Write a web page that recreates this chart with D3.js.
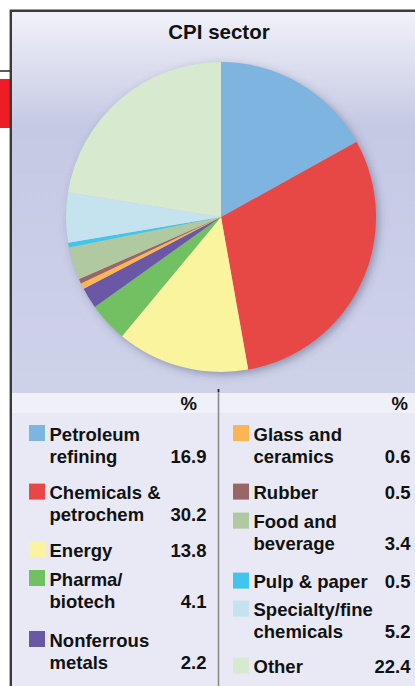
<!DOCTYPE html>
<html><head><meta charset="utf-8">
<script src="https://cdn.jsdelivr.net/npm/d3@7"></script>
<style>
html,body{margin:0;padding:0;background:#fff;overflow:hidden}
svg{display:block}
text{font-family:"Liberation Sans",Arial,Helvetica,sans-serif;font-weight:bold;fill:#111}
</style></head>
<body>
<script>
// ---- data ----
const title = "CPI sector";
const categories = ["Petroleum refining","Chemicals & petrochem","Energy","Pharma/biotech","Nonferrous metals","Glass and ceramics","Rubber","Food and beverage","Pulp & paper","Specialty/fine chemicals","Other"];
const legendLines = [["Petroleum","refining"],["Chemicals &","petrochem"],["Energy"],["Pharma/","biotech"],["Nonferrous","metals"],["Glass and","ceramics"],["Rubber"],["Food and","beverage"],["Pulp & paper"],["Specialty/fine","chemicals"],["Other"]];
const values = [16.9,30.2,13.8,4.1,2.2,0.6,0.5,3.4,0.5,5.2,22.4];
const colors = ["#7db4e0","#e74845","#fbf49e","#71c163","#6a58a6","#fdb455","#996565","#b0c9a0","#3fc5ee","#c4e3ee","#d7eacf"];
const valueHeader = "%";

// ---- layout ----
const W = 415, H = 686;
const svg = d3.select("body").append("svg").attr("width", W).attr("height", H);
const defs = svg.append("defs");

const bg = defs.append("linearGradient").attr("id","bg").attr("x1",0).attr("y1",0).attr("x2",0).attr("y2",1);
bg.append("stop").attr("offset","0%").attr("stop-color","#f1f2f9");
bg.append("stop").attr("offset","30%").attr("stop-color","#c6c9e4");
bg.append("stop").attr("offset","100%").attr("stop-color","#ced2e9");

const sh = defs.append("filter").attr("id","shadow").attr("x","-20%").attr("y","-20%").attr("width","140%").attr("height","140%");
sh.append("feDropShadow").attr("dx",3).attr("dy",3).attr("stdDeviation",5).attr("flood-color","#3a3f66").attr("flood-opacity",0.5);

// left decorations
svg.append("rect").attr("x",0).attr("y",79).attr("width",10).attr("height",49).attr("fill","#ee1c25");
svg.append("line").attr("x1",0).attr("x2",10).attr("y1",71).attr("y2",71).attr("stroke","#333").attr("stroke-width",1.6);

// panel
svg.append("rect").attr("x",10.5).attr("y",10.5).attr("width",W).attr("height",383).attr("fill","url(#bg)");
svg.append("rect").attr("x",10.5).attr("y",393).attr("width",W).attr("height",20).attr("fill","#eff0f8");
svg.append("rect").attr("x",10.5).attr("y",413).attr("width",W).attr("height",H-413).attr("fill","#e8e9f5");
svg.append("path").attr("d",`M10.8,${H} V10.8 H${W}`).attr("fill","none").attr("stroke","#3a3a3a").attr("stroke-width",2.4);

// title
svg.append("text").attr("x",219).attr("y",38.5).attr("text-anchor","middle").style("font-size","20.5px").text(title);

// pie
const cx = 221, cy = 217, R = 155;
const pie = d3.pie().sort(null).value(d => d)(values);
const arc = d3.arc().innerRadius(0).outerRadius(R);
const color = d3.scaleOrdinal().domain(categories).range(colors);
const g = svg.append("g").attr("transform",`translate(${cx},${cy})`);
g.append("circle").attr("r",R-1).attr("fill","#ccc").attr("filter","url(#shadow)");
g.selectAll("path.slice").data(pie).join("path").attr("class","slice")
  .attr("d",arc).attr("fill",(d,i)=>color(categories[i]));

// divider
svg.append("line").attr("x1",218.5).attr("x2",218.5).attr("y1",389).attr("y2",H).attr("stroke","#8a8a8a").attr("stroke-width",1.6);
svg.append("line").attr("x1",218.5).attr("x2",218.5).attr("y1",389).attr("y2",392).attr("stroke","#222").attr("stroke-width",1.6);

// legend
const fs = "18.5px";
svg.append("text").attr("x",197).attr("y",410).attr("text-anchor","end").style("font-size",fs).text(valueHeader);
svg.append("text").attr("x",408).attr("y",410).attr("text-anchor","end").style("font-size",fs).text(valueHeader);

const cols = [{sq:29,tx:49.5,num:206.5},{sq:233,tx:253.5,num:410.5}];
const baselines = [440.7,499.3,557.3,585.7,646.7,440.7,499.3,528.3,588.3,616.3,673.3];
const lh = 22;
const items = svg.selectAll("g.item").data(categories).join("g").attr("class","item");
items.each(function(c,i){
  const col = cols[i < 5 ? 0 : 1];
  const b = baselines[i];
  const el = d3.select(this);
  el.append("rect").attr("x",col.sq).attr("y",b-15.7).attr("width",16).attr("height",16).attr("fill",color(c));
  const lines = legendLines[i];
  lines.forEach((ln,k)=>{
    el.append("text").attr("x",col.tx).attr("y",b+k*lh).style("font-size",fs).text(ln);
  });
  el.append("text").attr("x",col.num).attr("y",b+(lines.length-1)*lh).attr("text-anchor","end").style("font-size",fs).text(values[i].toFixed(1));
});
</script>
</body></html>
